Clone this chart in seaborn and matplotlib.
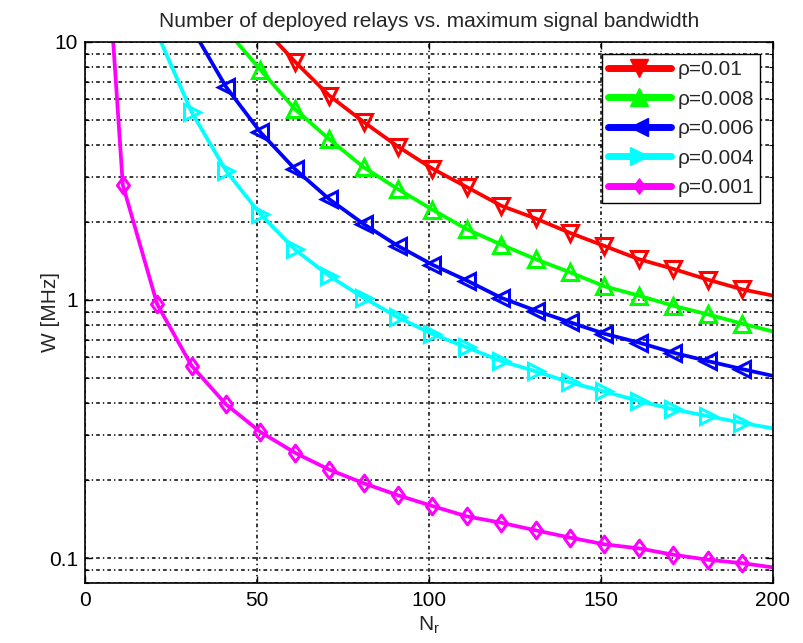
import matplotlib
matplotlib.use("Agg")
import matplotlib.pyplot as plt
from matplotlib.lines import Line2D
from matplotlib.path import Path
import seaborn as sns
import pandas as pd

# ---- data (N_r vs W [MHz]) ----
red_n = [55.7, 61, 71, 81, 91, 101, 111, 121, 131, 141, 151, 161, 171, 181, 191, 200]
red_w = [10.0, 8.4, 6.2, 4.9, 3.93, 3.23, 2.74, 2.32, 2.07, 1.82, 1.62, 1.44, 1.32, 1.20, 1.10, 1.04]

green_n = [44.1, 51, 61, 71, 81, 91, 101, 111, 121, 131, 141, 151, 161, 171, 181, 191, 200]
green_w = [10.0, 7.8, 5.5, 4.2, 3.27, 2.69, 2.24, 1.88, 1.64, 1.44, 1.28, 1.13, 1.04, 0.95, 0.88, 0.81, 0.755]

blue_n = [33.4, 41, 51, 61, 71, 81, 91, 101, 111, 121, 131, 141, 151, 161, 171, 181, 191, 200]
blue_w = [10.0, 6.7, 4.47, 3.22, 2.46, 1.97, 1.62, 1.37, 1.19, 1.02, 0.91, 0.82, 0.74, 0.684, 0.625, 0.58, 0.54, 0.508]

cyan_n = [22.1, 31, 41, 51, 61, 71, 81, 91, 101, 111, 121, 131, 141, 151, 161, 171, 181, 191, 200]
cyan_w = [10.0, 5.35, 3.17, 2.15, 1.57, 1.24, 1.02, 0.856, 0.738, 0.655, 0.58, 0.529, 0.479, 0.442, 0.406, 0.377, 0.355, 0.334, 0.318]

mag_n = [8.2, 11, 21, 31, 41, 51, 61, 71, 81, 91, 101, 111, 121, 131, 141, 151, 161, 171, 181, 191, 200]
mag_w = [10.0, 2.79, 0.962, 0.556, 0.394, 0.308, 0.256, 0.220, 0.195, 0.175, 0.159, 0.145, 0.137, 0.128, 0.120, 0.113, 0.109, 0.103, 0.0985, 0.0955, 0.092]

labels = ["ρ=0.01", "ρ=0.008", "ρ=0.006", "ρ=0.004", "ρ=0.001"]
colors = ["#ff0000", "#00ff00", "#0000ff", "#00ffff", "#ff00ff"]
xticks = [0, 50, 100, 150, 200]

# MATLAB-like diamond (a bit taller than wide)
diamond = Path([(0, 1), (0.72, 0), (0, -1), (-0.72, 0), (0, 1)],
               [Path.MOVETO, Path.LINETO, Path.LINETO, Path.LINETO, Path.CLOSEPOLY])
markers = ["v", "^", "<", ">", diamond]
msizes = [11, 11, 11, 11, 12]

series = [(red_n, red_w), (green_n, green_w), (blue_n, blue_w),
          (cyan_n, cyan_w), (mag_n, mag_w)]

sns.set_style("ticks")
plt.rcParams["font.family"] = ["Liberation Sans", "DejaVu Sans"]
plt.rcParams["mathtext.fontset"] = "custom"
plt.rcParams["mathtext.rm"] = "Liberation Sans"

fig = plt.figure(figsize=(8.04, 6.43), dpi=100)
ax = fig.add_axes([0.1057, 0.0933, 0.8557, 0.8414])

for (n, w), lab, col, mk, ms in zip(series, labels, colors, markers, msizes):
    df = pd.DataFrame({"N": n, "W": w})
    sns.lineplot(data=df, x="N", y="W", ax=ax, color=col, lw=2.7,
                 marker=mk, markevery=slice(1, -1), markersize=ms,
                 markerfacecolor="none", markeredgecolor=col,
                 markeredgewidth=2.2, sort=False, estimator=None)

ax.set_yscale("log")
ax.set_xlim(0, 200)
ax.set_ylim(0.08, 10)
ax.set_xticks(xticks)
ax.set_xticklabels([str(t) for t in xticks])
ax.set_yticks([0.1, 1, 10])
ax.set_yticklabels(["0.1", "1", "10"])

grid_kw = dict(color="black", linewidth=1.1, dashes=(2.4, 2.0, 0.9, 2.0))
ax.grid(True, which="major", axis="both", **grid_kw)
ax.grid(True, which="minor", axis="y", **grid_kw)

ax.tick_params(which="both", direction="in", top=True, right=True,
               labelsize=15, colors="black")
ax.tick_params(which="major", length=5, width=1.0, pad=6)
ax.tick_params(axis="y", which="major", pad=5)
ax.tick_params(which="minor", length=3, width=0.8)
ax.tick_params(axis="x", which="minor", bottom=False, top=False)
for s in ax.spines.values():
    s.set_linewidth(1.2)
    s.set_color("black")

ax.set_xlabel(r"N$_\mathregular{r}$", fontsize=15, labelpad=3)
ax.set_ylabel("W [MHz]", fontsize=15)
ax.yaxis.set_label_coords(-0.036, 0.5)
ax.set_title("Number of deployed relays vs. maximum signal bandwidth",
             fontsize=15, pad=11)

handles = [Line2D([0], [0], color=c, lw=5, marker=m,
                  markersize=(11 if m is diamond else 13), markerfacecolor=c,
                  markeredgecolor=c, markeredgewidth=1.0)
           for c, m in zip(colors, markers)]
leg = ax.legend(handles, labels, loc="upper right", fontsize=15,
                handlelength=3.0, labelspacing=0.5, borderpad=0.28,
                handletextpad=0.35, borderaxespad=0.6, fancybox=False,
                framealpha=1, edgecolor="black")
leg.get_frame().set_linewidth(1.0)

fig.savefig("out.png", dpi=100)
